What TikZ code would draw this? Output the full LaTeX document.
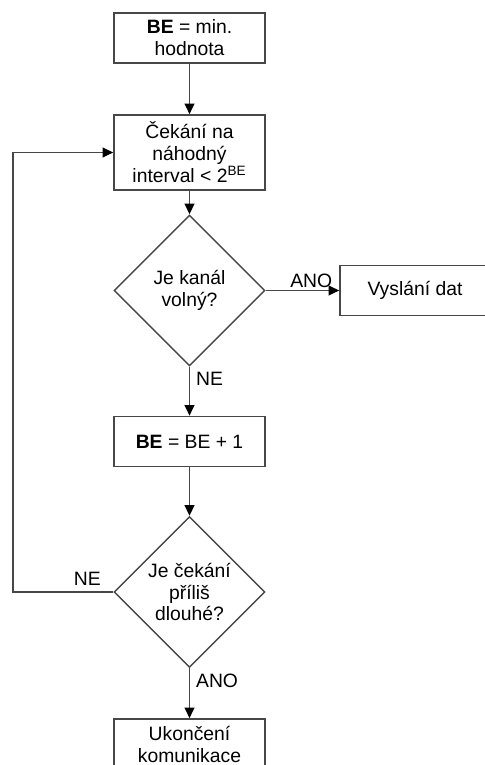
\documentclass[tikz,border=0pt]{standalone}
\usepackage{fontspec}
\setmainfont{Liberation Sans}
\usepackage{tikz}
\usetikzlibrary{arrows.meta,shapes.geometric}
\colorlet{LineGr}{black!72}

\begin{document}
\begin{tikzpicture}[
    txt/.style={font=\fontsize{11}{12.5}\selectfont},
    blok/.style={txt, draw=LineGr, line width=0.9pt, minimum width=3.02cm, minimum height=1cm, align=center, inner sep=1pt},
    rozh/.style={txt, diamond, draw=LineGr, line width=0.8pt, minimum size=3.02cm, aspect=1, inner sep=0pt, align=center},
    sipka/.style={draw=LineGr, line width=0.9pt, -{Triangle[length=6pt,width=5.5pt,color=black]}}
]
        \useasboundingbox (0,0) rectangle (9.7,15.3);
        %Bloky
        \node[blok] (bemin) at (3.79,14.54) {\textbf{BE} = min.\\hodnota};
        \node[blok, minimum height=1.5cm] (cekani) at (3.79,12.25) {Čekání na\\náhodný\\interval < 2\textsuperscript{BE}};
        \node[rozh] (kanal) at (3.79,9.49) {Je kanál\\volný?};
        \node[blok, minimum width=3cm] (vyslani) at (8.3,9.49) {Vyslání dat};
        \node[blok] (beplus) at (3.79,6.47) {\textbf{BE} = BE + 1};
        \node[rozh] (dlouhe) at (3.79,3.46) {Je čekání\\příliš\\dlouhé?};
        \node[blok] (konec) at (3.79,0.42) {Ukončení\\komunikace};
        \coordinate (smycka) at (0.26,0);
        %Spoje
        \draw[sipka] (bemin) -- (cekani);
        \draw[sipka] (cekani) -- (kanal);
        \draw[sipka] (kanal) -- node[txt, pos=0.62, above, inner sep=1pt]{ANO} (vyslani);
        \draw[sipka] (kanal) -- node[txt, pos=0.25, right]{NE} (beplus);
        \draw[sipka] (beplus) -- (dlouhe);
        \draw[sipka] (dlouhe) -- node[txt, pos=0.25, right]{ANO} (konec);
        %Smyčka zpět
        \draw[sipka] (dlouhe.west) -- node[txt, pos=0.26, above]{NE} (dlouhe.west -| smycka) |- (cekani.west);
\end{tikzpicture}
\end{document}
